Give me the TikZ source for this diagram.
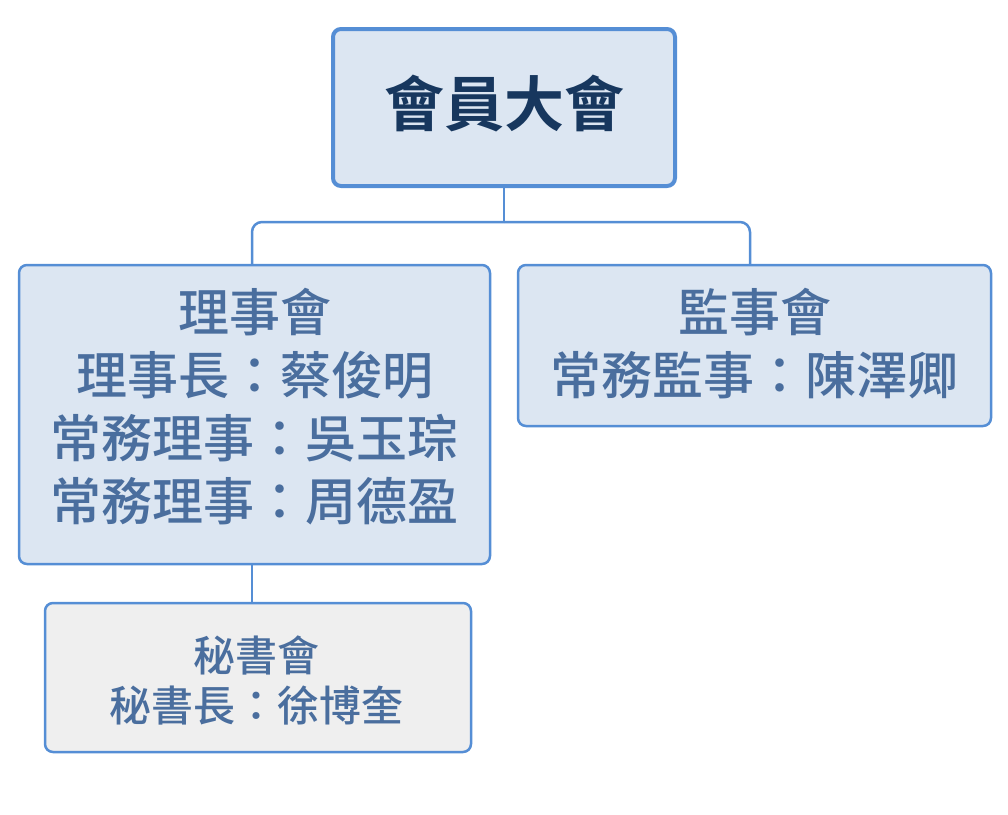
\documentclass[tikz,border=0pt]{standalone}
\usepackage{fontspec}
\setmainfont{Noto Sans CJK TC}[BoldFont={Noto Sans CJK TC Bold}]
\newfontfamily\medfont{Noto Sans CJK TC Medium}
\definecolor{boxfill}{HTML}{DCE6F2}
\definecolor{grayfill}{HTML}{EFEFEF}
\definecolor{boxline}{HTML}{558ED5}
\definecolor{darktext}{HTML}{17375E}
\definecolor{bodytext}{HTML}{4A6E9E}
\tikzset{
  orgbox/.style={draw=boxline, fill=boxfill, rounded corners=8pt, line width=2.5pt, inner sep=0pt},
  toptext/.style={text=darktext, font=\fontsize{60}{72}\selectfont\bfseries},
  bigtext/.style={text=bodytext, align=center, font=\fontsize{51}{63}\selectfont\medfont},
  smalltext/.style={text=bodytext, align=center, font=\fontsize{42}{50}\selectfont\medfont},
  conn/.style={draw=boxline, line width=2.5pt, rounded corners=10pt}
}
\begin{document}
\begin{tikzpicture}[x=1pt,y=-1pt]
\useasboundingbox (0,0) rectangle (1008,814);
\node[orgbox, line width=4pt, minimum width=342pt, minimum height=157pt] (top) at (504,107.5) {};
\node[toptext] (toplbl) at (504,104) {會員大會};
\node[orgbox, minimum width=471pt, minimum height=299pt] (board) at (254.5,414.5) {};
\node[bigtext] (boardlbl) at (254.5,407) {理事會\\理事長：蔡俊明\\常務理事：吳玉琮\\常務理事：周德盈};
\node[orgbox, minimum width=473pt, minimum height=161pt] (sup) at (754.5,345.5) {};
\node[bigtext] (suplbl) at (754.5,344) {監事會\\常務監事：陳澤卿};
\node[orgbox, fill=grayfill, minimum width=426pt, minimum height=149pt] (sec) at (258,677.5) {};
\node[smalltext] (seclbl) at (256,680) {秘書會\\秘書長：徐博奎};
\coordinate (jn) at (504,222);
\draw[conn, rounded corners=0pt] (top.south) -- (jn);
\draw[conn] (jn) -- (252,222) -- (252,265);
\draw[conn] (jn) -- (750,222) -- (750,265);
\draw[conn] (252,564) -- (252,603);
\end{tikzpicture}
\end{document}
